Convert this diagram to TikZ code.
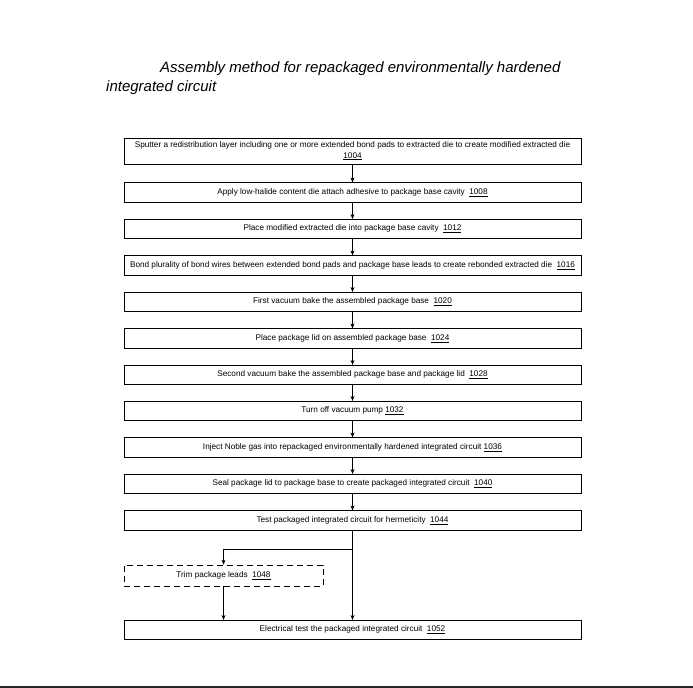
\documentclass[tikz,border=0pt]{standalone}
\usepackage{fontspec}
\setmainfont{Liberation Sans}
\usetikzlibrary{arrows.meta}
\begin{document}
\begin{tikzpicture}[x=1bp,y=-1bp,
  stepbox/.style={draw=black,line width=0.6bp,minimum width=457bp,minimum height=19.5bp,inner sep=1bp,font=\fontsize{8.2bp}{10.5bp}\selectfont,align=center},
  trimbox/.style={draw=black,line width=0.6bp,dash pattern=on 6bp off 4bp,minimum width=199bp,minimum height=21bp,inner sep=1bp,font=\fontsize{8.2bp}{10.5bp}\selectfont},
  flow/.style={draw=black,line width=0.6bp,-{Stealth[length=5bp,width=4bp]}},
  titletext/.style={font=\fontsize{15bp}{18bp}\selectfont\itshape,anchor=base west,inner sep=0pt}
]
\useasboundingbox (0,0) rectangle (693,688);
\node[titletext] (t1) at (160,73) {Assembly method for repackaged environmentally hardened};
\node[titletext] (t2) at (106,92) {integrated circuit};

\node[stepbox,minimum height=26bp] (b1) at (352.5,151) {Sputter a redistribution layer including one or more extended bond pads to extracted die to create modified extracted die\\\underline{1004}};
\node[stepbox] (b2) at (352.5,192.5) {Apply low-halide content die attach adhesive to package base cavity \ \underline{1008}};
\node[stepbox] (b3) at (352.5,229) {Place modified extracted die into package base cavity \ \underline{1012}};
\node[stepbox] (b4) at (352.5,265.5) {Bond plurality of bond wires between extended bond pads and package base leads to create rebonded extracted die \ \underline{1016}};
\node[stepbox] (b5) at (352.5,302) {First vacuum bake the assembled package base \ \underline{1020}};
\node[stepbox] (b6) at (352.5,338.5) {Place package lid on assembled package base \ \underline{1024}};
\node[stepbox] (b7) at (352.5,375) {Second vacuum bake the assembled package base and package lid \ \underline{1028}};
\node[stepbox] (b8) at (352.5,411) {Turn off vacuum pump \underline{1032}};
\node[stepbox] (b9) at (352.5,447.5) {Inject Noble gas into repackaged environmentally hardened integrated circuit \underline{1036}};
\node[stepbox] (b10) at (352.5,484) {Seal package lid to package base to create packaged integrated circuit \ \underline{1040}};
\node[stepbox] (b11) at (352.5,520.5) {Test packaged integrated circuit for hermeticity \ \underline{1044}};
\node[trimbox] (trim) at (223.5,575.5) {Trim package leads \ \underline{1048}};
\node[stepbox] (b12) at (352.5,630) {Electrical test the packaged integrated circuit \ \underline{1052}};

\foreach \a/\b in {b1/b2,b2/b3,b3/b4,b4/b5,b5/b6,b6/b7,b7/b8,b8/b9,b9/b10,b10/b11}
  \draw[flow] (\a) -- (\b);
\coordinate (split) at (352.5,549);
\draw[flow] (b11.south) -- (b12.north);
\draw[flow] (split) -| (trim.north);
\draw[flow] (trim.south) -- (trim.south |- b12.north);

\coordinate (bl) at (0,687);
\coordinate (br) at (693,687);
\draw[line width=1.5bp,black!85] (bl) -- (br);
\end{tikzpicture}
\end{document}
